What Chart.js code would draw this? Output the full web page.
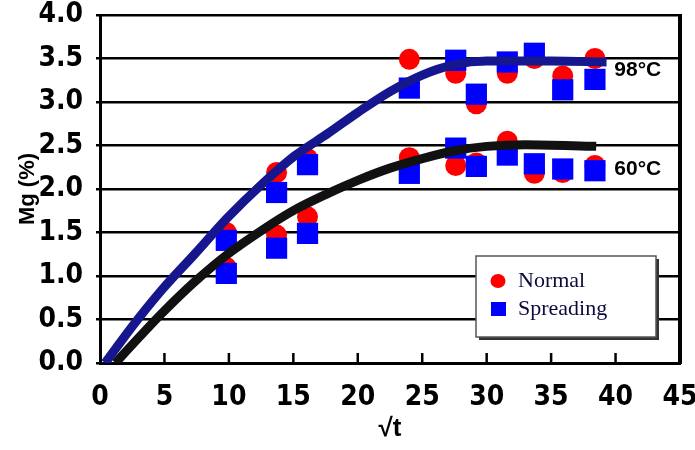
<!DOCTYPE html>
<html>
<head>
<meta charset="utf-8">
<script src="https://cdn.jsdelivr.net/npm/chart.js@4.4.0/dist/chart.umd.min.js"></script>
<style>
  html, body { margin: 0; padding: 0; background: #fff; }
  #wrap { width: 695px; height: 450px; }
</style>
</head>
<body>
<div id="wrap"><canvas id="myChart" width="695" height="450"></canvas></div>
<script>
// measured points (sqrt t, Mg %)
var sqrtT = [9.8, 13.7, 16.1, 24.0, 27.6, 29.2, 31.6, 33.7, 35.9, 38.4];
var normal98 = [1.50, 2.19, 2.35, 3.49, 3.33, 2.98, 3.33, 3.50, 3.30, 3.50];
var spreading98 = [1.41, 1.96, 2.28, 3.16, 3.48, 3.09, 3.46, 3.56, 3.14, 3.26];
var normal60 = [1.10, 1.47, 1.68, 2.36, 2.27, 2.30, 2.55, 2.18, 2.19, 2.27];
var spreading60 = [1.03, 1.32, 1.49, 2.18, 2.47, 2.26, 2.39, 2.29, 2.23, 2.21];

// fitted curves
var fitT98 = [0.4, 2.5, 4.8, 7.4, 9.9, 12.6, 15.1, 17.7, 20, 22.5, 25, 27.5, 30, 35, 39.3];
var fit98 = [0, 0.42, 0.84, 1.26, 1.67, 2.06, 2.38, 2.64, 2.88, 3.12, 3.31, 3.43, 3.47, 3.47, 3.46];
var fitT60 = [1.2, 3, 4.8, 7.4, 9.9, 12.6, 15.1, 17.7, 20, 22.5, 25, 27.5, 30, 33, 38.5];
var fit60 = [0, 0.29, 0.57, 0.94, 1.25, 1.53, 1.76, 1.95, 2.10, 2.24, 2.35, 2.44, 2.49, 2.51, 2.49];

var xTicks = [0, 5, 10, 15, 20, 25, 30, 35, 40, 45];
var yTicks = [0, 0.5, 1, 1.5, 2, 2.5, 3, 3.5, 4];
var legendLabels = ['Normal', 'Spreading'];

function pts(xs, ys) {
  return xs.map(function (x, i) { return { x: x, y: ys[i] }; });
}

var tickFont = { family: "'Liberation Sans Narrow', 'DejaVu Sans Condensed', 'Liberation Sans', Arial", size: 28, weight: 'bold' };

var extras = {
  id: 'extras',
  afterDatasetsDraw: function (chart) {
    var ctx = chart.ctx, a = chart.chartArea;
    var xs = chart.scales.x, ys = chart.scales.y;
    ctx.save();
    ctx.strokeStyle = '#000';

    // tick marks inside the plot
    ctx.lineWidth = 2.5;
    xTicks.slice(1, -1).forEach(function (v) {
      var px = xs.getPixelForValue(v);
      ctx.beginPath();
      ctx.moveTo(px, a.bottom);
      ctx.lineTo(px, a.bottom - 10);
      ctx.stroke();
    });

    // right frame
    ctx.lineWidth = 4;
    ctx.beginPath();
    ctx.moveTo(a.right, a.top - 1);
    ctx.lineTo(a.right, a.bottom + 1);
    ctx.stroke();

    // curve labels
    ctx.fillStyle = '#000';
    ctx.font = "bold 21px 'Liberation Sans', Arial";
    ctx.textAlign = 'left';
    ctx.textBaseline = 'middle';
    ctx.fillText('98°C', xs.getPixelForValue(39.9), ys.getPixelForValue(3.37));
    ctx.fillText('60°C', xs.getPixelForValue(39.9), ys.getPixelForValue(2.23));

    // legend box
    var lx = a.right - 204, ly = a.top + 241, lw = 180, lh = 81;
    ctx.fillStyle = '#333';
    ctx.fillRect(lx + 3, ly + 3, lw, lh);
    ctx.fillStyle = '#fff';
    ctx.fillRect(lx, ly, lw, lh);
    ctx.lineWidth = 1.5;
    ctx.strokeStyle = '#555';
    ctx.strokeRect(lx, ly, lw, lh);

    var ds = chart.data.datasets;
    ctx.fillStyle = ds[2].backgroundColor;
    ctx.beginPath();
    ctx.ellipse(lx + 22, ly + 25, 7.5, 7, 0, 0, Math.PI * 2);
    ctx.fill();
    ctx.fillStyle = ds[4].backgroundColor;
    ctx.fillRect(lx + 15, ly + 46, 15, 14);

    ctx.fillStyle = '#0a0a3c';
    ctx.font = "22px 'Liberation Serif', 'Times New Roman', serif";
    ctx.fillText(legendLabels[0], lx + 42, ly + 25);
    ctx.fillText(legendLabels[1], lx + 42, ly + 53);
    ctx.restore();
  }
};

var ctx = document.getElementById('myChart').getContext('2d');
var chart = new Chart(ctx, {
  type: 'scatter',
  data: {
    datasets: [
      { label: '98°C fit', data: pts(fitT98, fit98), showLine: true, borderColor: '#16168e', borderWidth: 9,
        pointRadius: 0, cubicInterpolationMode: 'monotone', order: 0 },
      { label: '60°C fit', data: pts(fitT60, fit60), showLine: true, borderColor: '#111', borderWidth: 9,
        pointRadius: 0, cubicInterpolationMode: 'monotone', order: 0 },
      { label: 'Normal 98', data: pts(sqrtT, normal98), backgroundColor: '#ff0000', borderWidth: 0,
        pointStyle: 'circle', pointRadius: 10.5, order: 2 },
      { label: 'Normal 60', data: pts(sqrtT, normal60), backgroundColor: '#ff0000', borderWidth: 0,
        pointStyle: 'circle', pointRadius: 10.5, order: 2 },
      { label: 'Spreading 98', data: pts(sqrtT, spreading98), backgroundColor: '#0000ff', borderWidth: 0,
        pointStyle: 'rect', pointRadius: 15, order: 1 },
      { label: 'Spreading 60', data: pts(sqrtT, spreading60), backgroundColor: '#0000ff', borderWidth: 0,
        pointStyle: 'rect', pointRadius: 15, order: 1 }
    ]
  },
  options: {
    responsive: false,
    animation: false,
    layout: { padding: { top: 14, right: 15, left: 0, bottom: 0 } },
    plugins: { legend: { display: false }, tooltip: { enabled: false } },
    scales: {
      x: {
        type: 'linear', min: 0, max: 45,
        afterBuildTicks: function (s) { s.ticks = xTicks.map(function (v) { return { value: v }; }); },
        afterFit: function (s) { s.height = 87; s.paddingLeft = 0; s.paddingRight = 0; },
        ticks: { color: '#000', font: tickFont, padding: 18, maxRotation: 0 },
        grid: { display: false, drawTicks: false },
        border: { display: true, color: '#000', width: 3 },
        title: { display: true, text: '√t', color: '#000', padding: { top: 0, bottom: 6 },
          font: { family: "'Liberation Sans', Arial", size: 26, weight: 'bold' } }
      },
      y: {
        min: 0, max: 4,
        afterBuildTicks: function (s) { s.ticks = yTicks.map(function (v) { return { value: v }; }); },
        afterFit: function (s) { s.width = 100; s.paddingTop = 0; s.paddingBottom = 0; },
        ticks: { color: '#000', font: tickFont, padding: 13,
          callback: function (v) { return Number(v).toFixed(1); } },
        grid: { color: '#000', lineWidth: 2.5, tickLength: 4 },
        border: { display: true, color: '#000', width: 3 },
        title: { display: true, text: 'Mg (%)', color: '#000', padding: { top: 15, bottom: 0 },
          font: { family: "'Liberation Sans', Arial", size: 22, weight: 'bold' } }
      }
    }
  },
  plugins: [extras]
});
</script>
</body>
</html>
